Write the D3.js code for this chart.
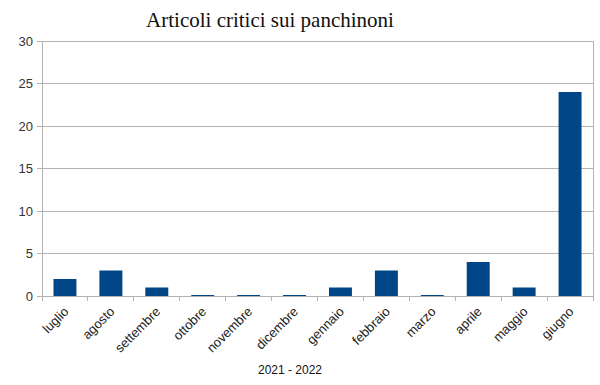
<!DOCTYPE html>
<html><head><meta charset="utf-8">
<script src="https://cdn.jsdelivr.net/npm/d3@7"></script>
<style>body{margin:0;background:#fff}svg{display:block}</style>
</head><body>
<script>
const categories = ["luglio","agosto","settembre","ottobre","novembre","dicembre","gennaio","febbraio","marzo","aprile","maggio","giugno"];
const values = [2,3,1,0,0,0,1,3,0,4,1,24];
const yTicks = [0,5,10,15,20,25,30];
const title = "Articoli critici sui panchinoni";
const xTitle = "2021 - 2022";

const W=600,H=385;
const m={l:42,r:7,t:41,b:89};
const svg=d3.select("body").append("svg").attr("width",W).attr("height",H);
const x=d3.scaleBand().domain(categories).range([m.l,W-m.r]).paddingInner(0.5).paddingOuter(0.25);
const y=d3.scaleLinear().domain([0,30]).range([H-m.b,m.t]);
const gridC="#b3b3b3";

svg.append("g").selectAll("line").data(yTicks).join("line")
  .attr("x1",m.l-5).attr("x2",W-m.r).attr("y1",d=>y(d)).attr("y2",d=>y(d))
  .attr("stroke",gridC).attr("stroke-width",1).attr("shape-rendering","crispEdges");
svg.append("line").attr("x1",W-m.r).attr("x2",W-m.r).attr("y1",m.t).attr("y2",H-m.b)
  .attr("stroke",gridC).attr("shape-rendering","crispEdges");
svg.append("line").attr("x1",m.l).attr("x2",m.l).attr("y1",m.t).attr("y2",H-m.b+5)
  .attr("stroke",gridC).attr("shape-rendering","crispEdges");
svg.append("g").selectAll("text").data(yTicks).join("text")
  .attr("x",m.l-9).attr("y",d=>y(d)).attr("dy","0.35em").attr("text-anchor","end")
  .attr("font-family","Liberation Sans, Arial, sans-serif").attr("font-size",13).attr("fill","#333")
  .text(d=>d);
const bounds=d3.range(categories.length+1).map(i=>m.l+i*(W-m.r-m.l)/categories.length);
svg.append("g").selectAll("line").data(bounds).join("line")
  .attr("x1",d=>d).attr("x2",d=>d).attr("y1",H-m.b).attr("y2",H-m.b+5)
  .attr("stroke",gridC).attr("shape-rendering","crispEdges");
svg.append("g").selectAll("rect").data(values).join("rect")
  .attr("x",(d,i)=>x(categories[i])).attr("width",x.bandwidth())
  .attr("y",d=>Math.min(y(d),y(0)-1)).attr("height",d=>Math.max(y(0)-y(d),1))
  .attr("fill","#004586");
svg.append("g").selectAll("text").data(categories).join("text")
  .attr("transform",d=>`translate(${x(d)+x.bandwidth()/2-2},${H-m.b+10}) rotate(-45)`)
  .attr("text-anchor","end").attr("dy","0.7em")
  .attr("font-family","Liberation Sans, Arial, sans-serif").attr("font-size",13).attr("fill","#222")
  .text(d=>d);
svg.append("text").attr("x",270).attr("y",27).attr("text-anchor","middle")
  .attr("font-family","Liberation Serif, Times New Roman, serif").attr("font-size",21).attr("fill","#111")
  .text(title);
svg.append("text").attr("x",290).attr("y",374).attr("text-anchor","middle")
  .attr("font-family","Liberation Sans, Arial, sans-serif").attr("font-size",12).attr("fill","#111")
  .text(xTitle);
</script>
</body></html>
